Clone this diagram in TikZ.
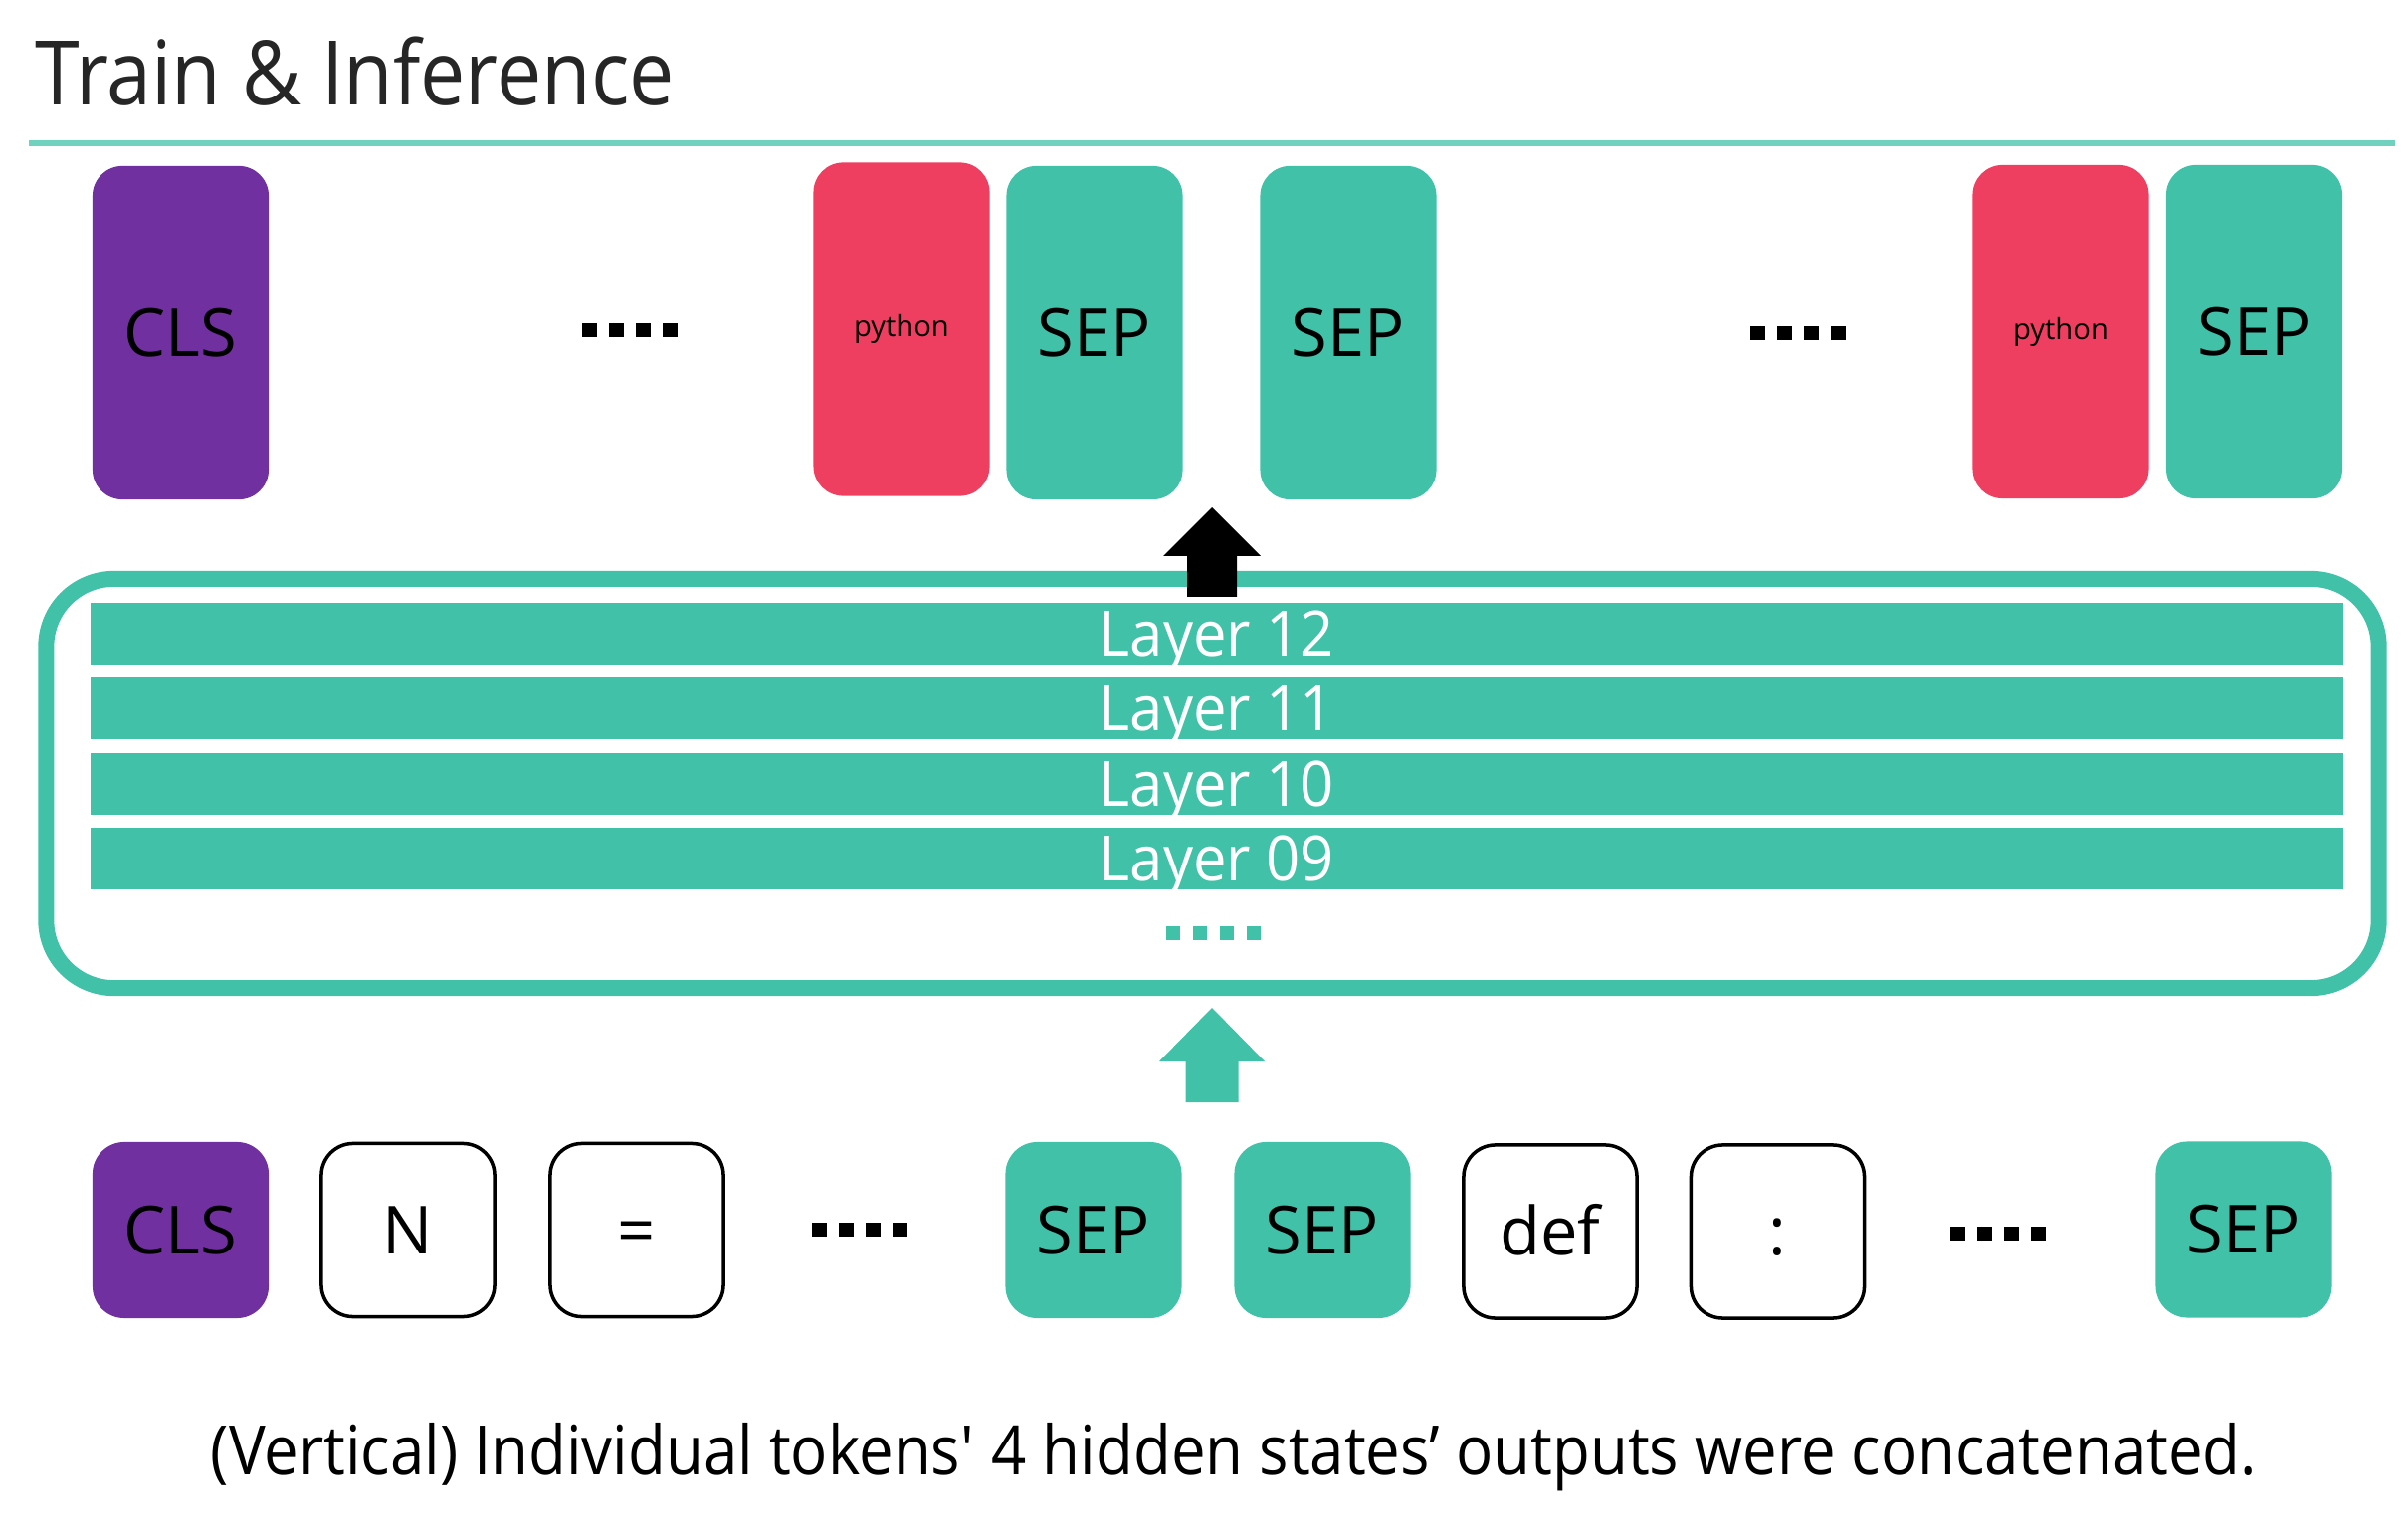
\documentclass[tikz,border=0pt]{standalone}
\usepackage{fontspec}
\setmainfont{Open Sans}
\newfontfamily\narrowfont{Open Sans}[FakeStretch=0.9]
\newfontfamily\layerfont{Open Sans}[FakeStretch=0.95]
\definecolor{tokpurple}{HTML}{7030A0}
\definecolor{tokteal}{HTML}{40C1A8}
\definecolor{tokred}{HTML}{EF3F61}
\definecolor{titlegray}{HTML}{262626}
\begin{document}
\begin{tikzpicture}[x=0.01cm, y=-0.01cm,
  tall/.style={rounded corners=0.3cm, minimum width=1.77cm, minimum height=3.35cm, inner sep=0pt, font=\fontsize{19}{23}\selectfont},
  short/.style={rounded corners=0.32cm, minimum width=1.77cm, minimum height=1.77cm, inner sep=0pt, text height=13.6pt, text depth=0pt, font=\fontsize{19}{23}\selectfont},
  open/.style={short, draw=black, line width=1pt, minimum width=1.74cm, minimum height=1.74cm},
  layer/.style={fill=tokteal, text=white, minimum width=22.62cm, minimum height=0.61cm, inner sep=0pt, text height=12.8pt, text depth=0pt, font=\layerfont\fontsize{17.9}{20}\selectfont}]
\useasboundingbox (0,0) rectangle (2420,1546);
\node[anchor=base west, inner sep=0pt, text=titlegray, font=\narrowfont\fontsize{25.5}{30}\selectfont] (title) at (35,106) {Train \& Inference};
\draw[tokteal!75, line width=1.7pt] (29,144) -- (2407,144);
\node[tall, fill=tokpurple] (out0) at (181.5,334.5) {CLS};
\node[tall, fill=tokred, font=\fontsize{8.3}{10}\selectfont] (out1) at (906,331) {python};
\node[tall, fill=tokteal] (out2) at (1100,334.5) {SEP};
\node[tall, fill=tokteal] (out3) at (1355,334.5) {SEP};
\node[tall, fill=tokred, font=\fontsize{8.3}{10}\selectfont] (out4) at (2071,333.5) {python};
\node[tall, fill=tokteal] (out5) at (2265.5,333.5) {SEP};
\foreach \d in {0,1,2,3} \fill (585+27*\d,325) rectangle ++(15,14);
\foreach \d in {0,1,2,3} \fill (1759+27*\d,328) rectangle ++(15,14);
\node[draw=tokteal, line width=0.16cm, rounded corners=0.68cm, minimum width=23.43cm, minimum height=4.11cm] (stack) at (1218.5,787.5) {};
\node[layer] (layer12) at (1223,637) {Layer 12};
\node[layer] (layer11) at (1223,712) {Layer 11};
\node[layer] (layer10) at (1223,788) {Layer 10};
\node[layer] (layer09) at (1223,863) {Layer 09};
\foreach \d in {0,1,2,3} \fill[tokteal] (1172+27*\d,931) rectangle ++(14,14);
\coordinate (outTip) at (1218,510);
\fill (outTip) -- ++(49,49) -- ++(-24,0) -- ++(0,41) -- ++(-50,0) -- ++(0,-41) -- ++(-24,0) -- cycle;
\coordinate (inTip) at (1218,1013);
\fill[tokteal] (inTip) -- ++(53,54) -- ++(-26.5,0) -- ++(0,41) -- ++(-53,0) -- ++(0,-41) -- ++(-26.5,0) -- cycle;
\node[short, fill=tokpurple] (in0) at (181.5,1236.5) {CLS};
\node[open] (in1) at (410,1236.5) {N};
\node[open] (in2) at (640,1236.5) {=};
\node[short, fill=tokteal] (in3) at (1099,1236.5) {SEP};
\node[short, fill=tokteal] (in4) at (1329,1236.5) {SEP};
\node[open] (in5) at (1558,1238) {def};
\node[open] (in6) at (1786.5,1238) {:};
\node[short, fill=tokteal] (in7) at (2255,1236) {SEP};
\foreach \d in {0,1,2,3} \fill (816+27*\d,1229) rectangle ++(15,14);
\foreach \d in {0,1,2,3} \fill (1960+27*\d,1233) rectangle ++(15,14);
\node[anchor=base, inner sep=0pt, font=\narrowfont\fontsize{19.5}{24}\selectfont] (caption) at (1240,1482) {(Vertical) Individual tokens\textquotesingle{} 4 hidden states’ outputs were concatenated.};
\end{tikzpicture}
\end{document}
